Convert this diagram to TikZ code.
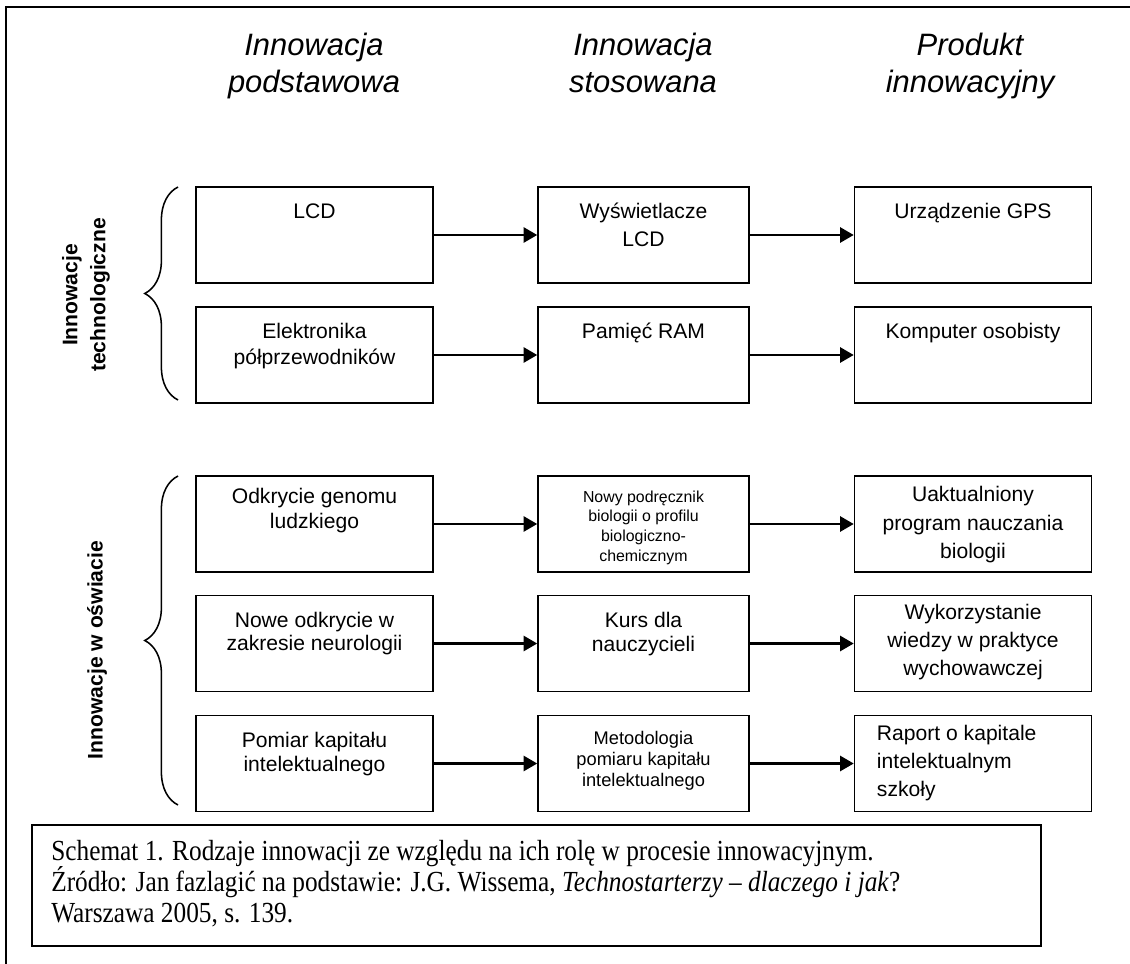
\documentclass[tikz,border=0pt]{standalone}
\usepackage{fontspec}
\usepackage{graphicx}
\setmainfont{Liberation Sans}
\newfontfamily\capfont{Liberation Serif}
\usetikzlibrary{arrows.meta,decorations.pathreplacing}

\begin{document}
\begin{tikzpicture}[x=0.025cm,y=-0.025cm,
  box/.style={draw, line width=1.1pt, minimum height=2.4cm, inner sep=0pt},
  wide/.style={box, minimum width=5.925cm},
  mid/.style={box, minimum width=5.275cm},
  txt/.style={anchor=north, align=center, inner sep=0pt, yshift=-0.42cm,
    font=\fontsize{15}{17.5}\selectfont},
  three/.style={txt, font=\fontsize{15}{20}\selectfont},
  small/.style={txt, font=\fontsize{11.3}{14.2}\selectfont},
  arr/.style={line width=1.5pt, -{Triangle[length=0.34cm,width=0.38cm]}},
  head/.style={align=center, font=\fontsize{22}{27}\selectfont\itshape},
  side/.style={align=center, rotate=90, font=\fontsize{15}{20}\selectfont\bfseries},
  brc/.style={line width=1.1pt, decorate, decoration={brace, amplitude=0.83cm}}]
\useasboundingbox (0,0) rectangle (1130,964);

% frame
\draw[line width=1.2pt] (6,964) -- (6,7) -- (1130,7);

% column heads
\node[head] (h1) at (314,66.4) {\strut Innowacja\\\strut podstawowa};
\node[head] (h2) at (643,66.4) {\strut Innowacja\\\strut stosowana};
\node[head] (h3) at (970,66.4) {\strut Produkt\\\strut innowacyjny};

% technology
\node[wide] (lcd) at (314.5,235) [label={[txt]north:LCD}] {};
\node[mid] (wys) at (643.5,235) [label={[txt, font=\fontsize{15}{20}\selectfont]north:{Wyświetlacze\\LCD}}] {};
\node[wide] (gps) at (973,235) [label={[txt]north:Urządzenie GPS}] {};
\node[wide] (ele) at (314.5,355) [label={[txt, font=\fontsize{15}{18.5}\selectfont]north:{Elektronika\\półprzewodników}}] {};
\node[mid] (ram) at (643.5,355) [label={[txt]north:Pamięć RAM}] {};
\node[wide] (pc) at (973,355) [label={[txt]north:Komputer osobisty}] {};

% education
\node[wide] (gen) at (314.5,524) [label={[txt, yshift=0.09cm]north:{Odkrycie genomu\\ludzkiego}}] {};
\node[mid] (pod) at (643.5,524) [label={[small, yshift=0.045cm]north:{Nowy podręcznik\\biologii o profilu\\biologiczno-\\chemicznym}}] {};
\node[wide] (prog) at (973,524) [label={[three, yshift=0.14cm]north:{Uaktualniony\\program nauczania\\biologii}}] {};
\node[wide] (neu) at (314.5,643.5) [label={[txt, font=\fontsize{15}{16.5}\selectfont]north:{Nowe odkrycie w\\zakresie neurologii}}] {};
\node[mid] (kurs) at (643.5,643.5) [label={[txt]north:{Kurs dla\\nauczycieli}}] {};
\node[wide] (wyk) at (973,643.5) [label={[three, yshift=0.19cm]north:{Wykorzystanie\\wiedzy w praktyce\\wychowawczej}}] {};
\node[wide] (pom) at (314.5,763.5) [label={[txt]north:{Pomiar kapitału\\intelektualnego}}] {};
\node[mid] (met) at (643.5,763.5) [label={[txt, yshift=0.02cm, font=\fontsize{13}{15}\selectfont]north:{Metodologia\\pomiaru kapitału\\intelektualnego}}] {};
\node[wide] (rap) at (973,763.5) [label={[three, align=left, anchor=north west, xshift=0.575cm, yshift=0.17cm]north west:{Raport o kapitale\\intelektualnym\\szkoły}}] {};

% arrows
\draw[arr] (lcd) -- (wys);
\draw[arr] (wys) -- (gps);
\draw[arr] (ele) -- (ram);
\draw[arr] (ram) -- (pc);
\draw[arr] (gen) -- (pod);
\draw[arr] (pod) -- (prog);
\draw[arr] (neu) -- (kurs);
\draw[arr] (kurs) -- (wyk);
\draw[arr] (pom) -- (met);
\draw[arr] (met) -- (rap);

% braces and side labels
\coordinate (b1) at (178,400);
\coordinate (t1) at (178,187);
\coordinate (b2) at (178,805);
\coordinate (t2) at (178,476);
\draw[brc] (b1) -- (t1);
\draw[brc] (b2) -- (t2);
\node[side] (tech) at (86,295) {Innowacje\\technologiczne};
\node[side] (osw) at (97,650) {Innowacje w oświacie};

% caption
\node[draw, line width=1.2pt, minimum width=25.225cm, minimum height=3.025cm, inner sep=0pt,
  label={[anchor=north west, inner sep=0pt, xshift=0.5cm, yshift=-0.38cm,
    font=\capfont\fontsize{18}{17}\selectfont]north west:{\def\arraystretch{1.11}\scalebox{1}[1.15]{\begin{tabular}{@{}l@{}}
    Schemat 1. Rodzaje innowacji ze względu na ich rolę w procesie innowacyjnym.\\
    \smash{Ź}ródło: Jan fazlagić na podstawie: J.G. Wissema, \textit{Technostarterzy – dlaczego i jak}?\\
    Warszawa 2005, s. 139.\end{tabular}}}}] (cap) at (536.5,885.5) {};
\end{tikzpicture}
\end{document}
